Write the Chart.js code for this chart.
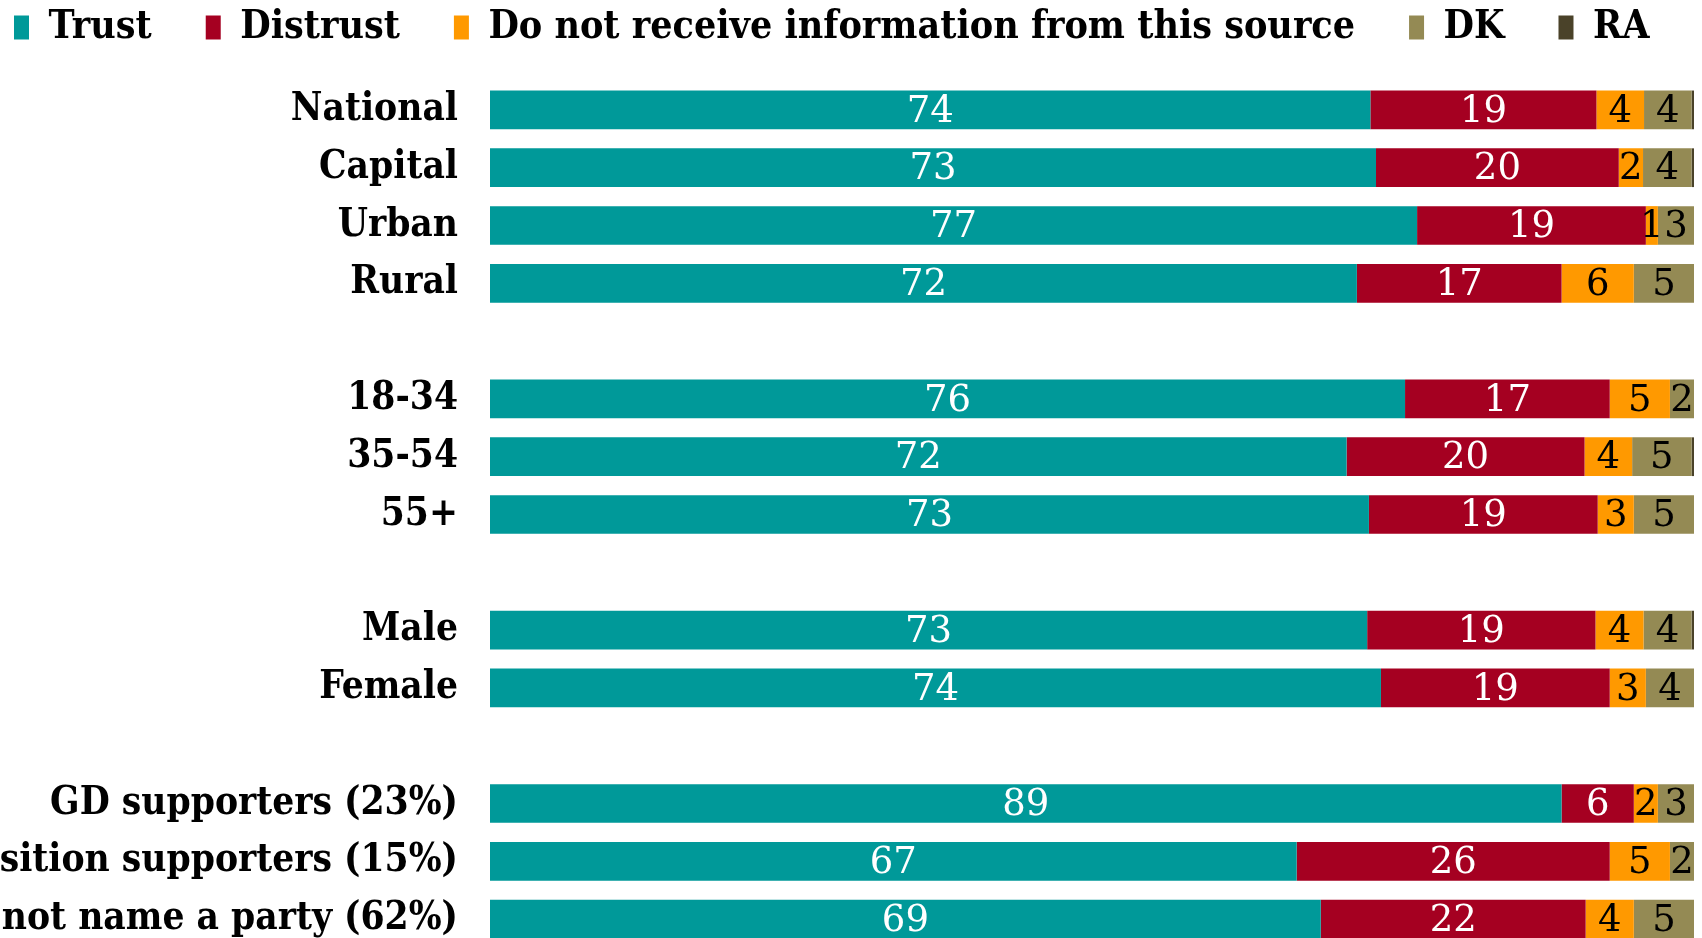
<!DOCTYPE html>
<html>
<head>
<meta charset="utf-8">
<script src="https://cdn.jsdelivr.net/npm/chart.js@4"></script>
<style>
  html, body { margin: 0; padding: 0; background: #fff; overflow: hidden; }
  #chart_canvas { display: block; }
</style>
</head>
<body>
<canvas id="chart_canvas" width="1702" height="960"></canvas>
<script>
// categories (empty strings are the spacer rows between groups)
const categories = [
    'National', 'Capital', 'Urban', 'Rural', '',
    '18-34', '35-54', '55+', '',
    'Male', 'Female', '',
    'GD supporters (23%)', 'Opposition supporters (15%)', 'Did not name a party (62%)'
];

const seriesNames = ['Trust', 'Distrust', 'Do not receive information from this source', 'DK', 'RA'];

const trust    = [74, 73, 77, 72, null, 76, 72, 73, null, 73, 74, null, 89, 67, 69];
const distrust = [19, 20, 19, 17, null, 17, 20, 19, null, 19, 19, null, 6, 26, 22];
const noInfo   = [4, 2, 1, 6, null, 5, 4, 3, null, 4, 3, null, 2, 5, 4];
const dk       = [4, 4, 3, 5, null, 2, 5, 5, null, 4, 4, null, 3, 2, 5];
const ra       = [0.2, 0.2, 0, 0, null, 0, 0.2, 0, null, 0.2, 0, null, 0, 0, 0];

const seriesColors = ['#009999', '#A50021', '#FF9900', '#948A54', '#4A4229'];
const labelColors  = ['#ffffff', '#ffffff', '#000000', '#000000', '#000000'];

const allSeries = [trust, distrust, noInfo, dk, ra];

// each row is drawn as a 100% stacked bar
function rowTotal(i) {
    let t = 0;
    allSeries.forEach(function (s) { t += s[i] || 0; });
    return t;
}

const datasets = allSeries.map(function (values, k) {
    return {
        label: seriesNames[k],
        data: values.map(function (v, i) { return v === null ? null : v / rowTotal(i) * 100; }),
        rawValues: values,
        backgroundColor: seriesColors[k],
        borderWidth: 0,
        barPercentage: 0.67,
        categoryPercentage: 1.0
    };
});

// numbers in the middle of each segment
const valueLabels = {
    id: 'valueLabels',
    afterDatasetsDraw(chart) {
        const c = chart.ctx;
        c.save();
        c.font = '37px "DejaVu Serif"';
        c.textAlign = 'center';
        c.textBaseline = 'middle';
        chart.data.datasets.forEach(function (ds, k) {
            const meta = chart.getDatasetMeta(k);
            meta.data.forEach(function (bar, i) {
                const v = ds.rawValues[i];
                if (v === null || v < 1) return;
                c.fillStyle = labelColors[k];
                c.fillText(String(v), (bar.x + bar.base) / 2, bar.y + 2);
            });
        });
        c.restore();
    }
};

// keep the legend on one line and give it a fixed height so the bars start lower
const legendHeight = {
    id: 'legendHeight',
    beforeInit(chart) {
        const legend = chart.legend;
        const fit = legend.fit;
        const draw = legend.draw;
        legend.fit = function () {
            this.maxWidth = this.maxWidth + 60;
            fit.apply(this, arguments);
            this.height = 127;
        };
        legend.draw = function () {
            const r = this.right;
            this.right = r + 60;
            draw.apply(this, arguments);
            this.right = r;
        };
    }
};

const ctx = document.getElementById('chart_canvas');

new Chart(ctx, {
    type: 'bar',
    data: {
        labels: categories,
        datasets: datasets
    },
    options: {
        indexAxis: 'y',
        responsive: false,
        animation: false,
        devicePixelRatio: 1,
        layout: {
            padding: { left: -40, right: 8, top: -46, bottom: 12 }
        },
        plugins: {
            legend: {
                position: 'top',
                align: 'start',
                labels: {
                    boxWidth: 15,
                    boxHeight: 24,
                    padding: 54,
                    color: '#000',
                    font: { family: '"DejaVu Serif Condensed", "DejaVu Serif"', size: 39, weight: 'bold' }
                }
            },
            tooltip: { enabled: false }
        },
        scales: {
            x: {
                stacked: true,
                display: false,
                min: 0,
                max: 100
            },
            y: {
                stacked: true,
                grid: { display: false, drawTicks: false },
                border: { display: false },
                afterFit: function (scale) {
                    scale.width = 530;
                    scale.paddingTop = 0;
                    scale.paddingBottom = 0;
                },
                ticks: {
                    color: '#000',
                    padding: 32,
                    autoSkip: false,
                    font: { family: '"DejaVu Serif Condensed", "DejaVu Serif"', size: 38.5, weight: 'bold' }
                }
            }
        }
    },
    plugins: [valueLabels, legendHeight]
});
</script>
</body>
</html>
